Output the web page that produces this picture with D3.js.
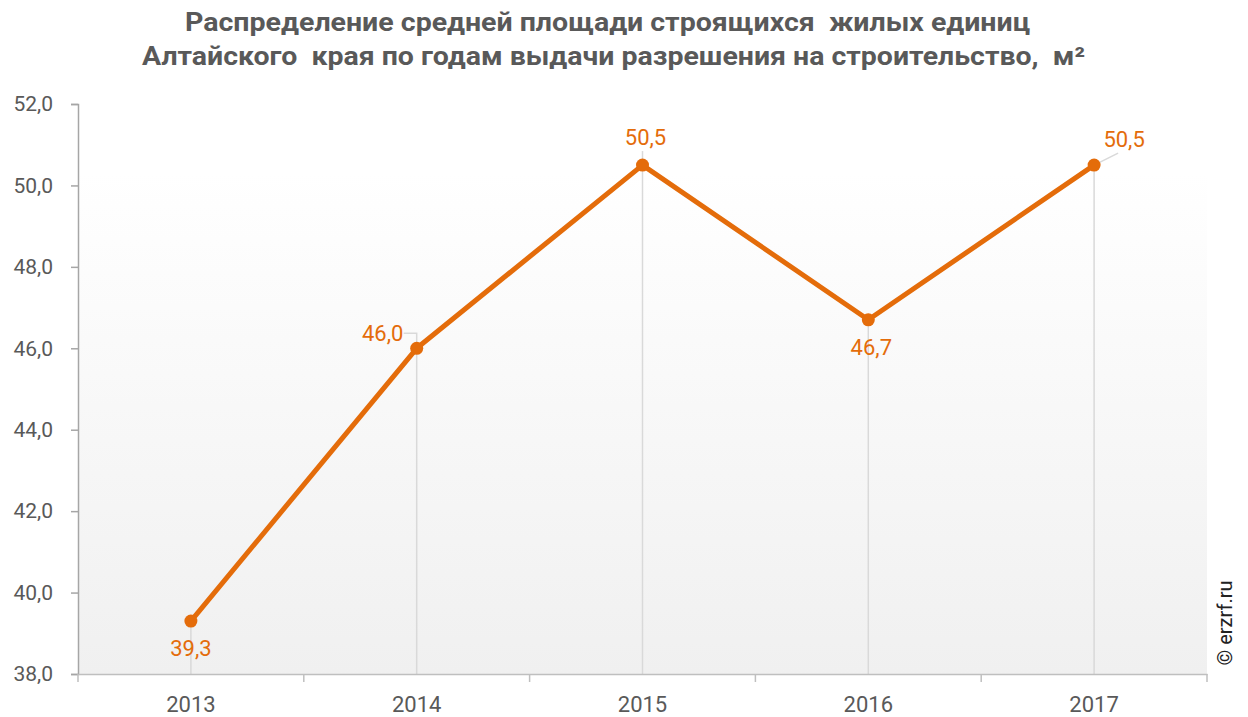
<!DOCTYPE html>
<html><head><meta charset="utf-8">
<script src="https://cdn.jsdelivr.net/npm/d3@7"></script>
<style>body{margin:0;background:#fff;} svg{display:block;}</style>
</head><body>
<svg id="c" width="1248" height="717"></svg>
<script>
const years = ["2013","2014","2015","2016","2017"];
const values = [39.3, 46.0, 50.5, 46.7, 50.5];
const labels = ["39,3","46,0","50,5","46,7","50,5"];
const yTicks = [38,40,42,44,46,48,50,52];
const titleLines = ["Распределение средней площади строящихся  жилых единиц","Алтайского  края по годам выдачи разрешения на строительство,  м²"];

const svg = d3.select("#c");
const m = {l:78, r:1207, t:104, b:674};
const x = d3.scaleBand().domain(years).range([m.l, m.r]);
const y = d3.scaleLinear().domain([38,52]).range([m.b, m.t]);
const orange = "#E46C0A";
const fmt = d => d.toFixed(1).replace(".", ",");

const defs = svg.append("defs");
const g = defs.append("linearGradient").attr("id","bg").attr("x1",0).attr("y1",0).attr("x2",0).attr("y2",1);
g.append("stop").attr("offset","0.12").attr("stop-color","#ffffff");
g.append("stop").attr("offset","1").attr("stop-color","#f0f0f0");
svg.append("rect").attr("x",m.l).attr("y",m.t).attr("width",m.r-m.l).attr("height",m.b-m.t).attr("fill","url(#bg)");

// title
const tl = [{x:185,w:845,y:31},{x:142,w:943,y:65}];
svg.append("g").selectAll("text").data(titleLines).join("text")
  .attr("x",(d,i)=>tl[i].x).attr("y",(d,i)=>tl[i].y)
  .attr("textLength",(d,i)=>tl[i].w).attr("lengthAdjust","spacingAndGlyphs")
  .attr("font-family","Roboto,sans-serif")
  .attr("font-weight","bold").attr("font-size",25).attr("fill","#595959")
  .style("white-space","pre").text(d=>d);

// drop lines
const pts = years.map((yr,i)=>({yr, v:values[i], lab:labels[i], cx:x(yr)+x.bandwidth()/2, cy:y(values[i])}));
svg.append("g").selectAll("line").data(pts).join("line")
  .attr("x1",d=>d.cx).attr("x2",d=>d.cx).attr("y1",d=>d.cy).attr("y2",m.b)
  .attr("stroke","#d9d9d9").attr("stroke-width",1.5);
// leader lines
const p1 = pts[1], p4 = pts[4], p2 = pts[2];
svg.append("path").attr("d",`M${p1.cx-13},${p1.cy-15}H${p1.cx}V${p1.cy}`).attr("fill","none").attr("stroke","#d9d9d9").attr("stroke-width",1.5);
svg.append("path").attr("d",`M${p4.cx},${p4.cy}L${p4.cx+24},${p4.cy-12}`).attr("fill","none").attr("stroke","#d9d9d9").attr("stroke-width",1.5);
svg.append("path").attr("d",`M${p2.cx},${p2.cy}V${p2.cy-14}`).attr("fill","none").attr("stroke","#d9d9d9").attr("stroke-width",1.5);

// axes
const ya = svg.append("g").attr("transform",`translate(${m.l},0)`)
  .call(d3.axisLeft(y).tickValues(yTicks).tickFormat(fmt).tickSize(7).tickPadding(18));
ya.select(".domain").attr("stroke","#a6a6a6").attr("stroke-width",1.5);
ya.selectAll(".tick line").attr("stroke","#a6a6a6").attr("stroke-width",1.5);
ya.selectAll("text").attr("font-family","Roboto,sans-serif").attr("font-size",21).attr("fill","#595959");

const xa = svg.append("g").attr("transform",`translate(0,${m.b})`)
  .call(d3.axisBottom(x).tickSize(0).tickPadding(22));
xa.select(".domain").attr("stroke","#bfbfbf").attr("stroke-width",1.5);
xa.selectAll("text").attr("font-family","Roboto,sans-serif").attr("font-size",22).attr("fill","#595959");
// band boundary ticks
const bounds = years.map(d=>x(d)).concat([m.r]);
svg.append("g").selectAll("line").data(bounds).join("line")
  .attr("x1",d=>d).attr("x2",d=>d).attr("y1",m.b).attr("y2",m.b+8)
  .attr("stroke","#bfbfbf").attr("stroke-width",1.5);

// line
svg.append("path").datum(pts)
  .attr("d",d3.line().x(d=>d.cx).y(d=>d.cy))
  .attr("fill","none").attr("stroke",orange).attr("stroke-width",5).attr("stroke-linejoin","round");
svg.append("g").selectAll("circle").data(pts).join("circle")
  .attr("cx",d=>d.cx).attr("cy",d=>d.cy).attr("r",6.5).attr("fill",orange);

// data labels
const off = [[0,35],[-34,-7],[3,-20],[3,35],[30,-18]];
svg.append("g").selectAll("text").data(pts).join("text")
  .attr("x",(d,i)=>d.cx+off[i][0]).attr("y",(d,i)=>d.cy+off[i][1])
  .attr("text-anchor","middle").attr("font-family","Roboto,sans-serif").attr("font-size",22)
  .attr("fill",orange).text(d=>d.lab);

// watermark
svg.append("text").attr("transform","translate(1232,623) rotate(-90)")
  .attr("text-anchor","middle").attr("font-family","Roboto,sans-serif").attr("font-size",20)
  .attr("fill","#222").text("© erzrf.ru");
</script>
</body></html>
